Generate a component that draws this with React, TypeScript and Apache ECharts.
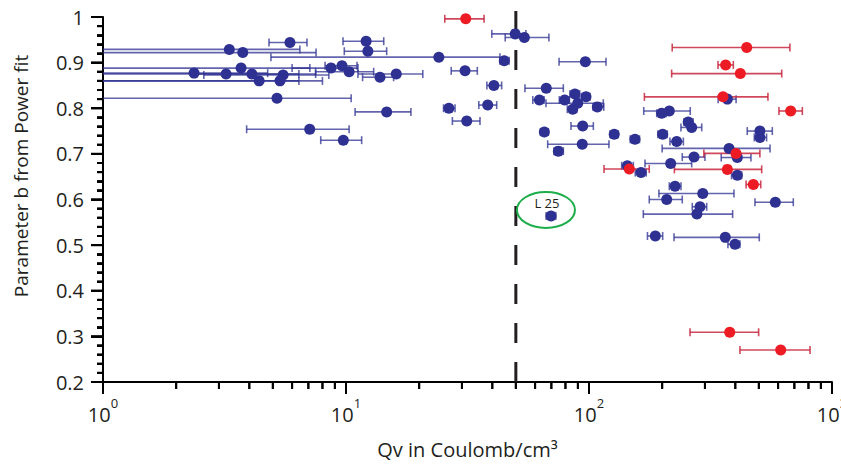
import React, { useEffect, useRef } from 'react';
import * as echarts from 'echarts';

const BLUE_QV = [5.88, 3.31, 3.76, 12.1, 12.3, 24.1, 44.8, 2.37, 3.21, 3.7, 4.1, 4.39, 5.51, 5.35, 5.2, 8.68, 9.63, 10.3, 13.8, 16.1, 14.7, 7.09, 9.75, 30.9, 40.6, 38.3, 26.5, 31.4, 49.7, 54.2, 96.6, 66.7, 62.5, 79.4, 87.5, 97.2, 89.9, 85.7, 108.2, 65.5, 94.2, 93.8, 74.8, 127, 214, 199, 371, 256, 264.6, 154.6, 201, 229.6, 505, 505, 377, 407.7, 270.5, 216.8, 143.8, 163.7, 407.7, 225.9, 293.8, 208.8, 584.6, 286.3, 278, 69.8, 187.5, 363.8, 398.9];
const BLUE_B = [0.944, 0.929, 0.922, 0.947, 0.925, 0.912, 0.904, 0.877, 0.875, 0.888, 0.875, 0.86, 0.873, 0.86, 0.822, 0.888, 0.893, 0.88, 0.868, 0.875, 0.792, 0.754, 0.73, 0.882, 0.85, 0.807, 0.8, 0.772, 0.963, 0.955, 0.902, 0.844, 0.818, 0.818, 0.831, 0.825, 0.811, 0.798, 0.803, 0.748, 0.761, 0.721, 0.706, 0.743, 0.794, 0.789, 0.82, 0.77, 0.758, 0.732, 0.743, 0.727, 0.75, 0.736, 0.712, 0.692, 0.693, 0.679, 0.674, 0.659, 0.653, 0.629, 0.613, 0.6, 0.594, 0.584, 0.568, 0.564, 0.52, 0.517, 0.502];
const BLUE_LO = [4.82, 0.5, 0.5, 9.72, 9.84, 4.91, 43, 0.5, 0.5, 0.5, 2.43, 0.5, 2.6, 0.5, 0.5, 6.0, 8.2, 7.5, 11.7, 11.2, 10.9, 3.9, 7.87, 27.1, 38, 35.2, 25.2, 27.4, 39.8, 45.2, 75.3, 54.5, 58.7, 75.5, 83.5, 93.3, 66.5, 81.4, 104, 63.1, 84.3, 67.6, 71.7, 122, 168, 190, 340, 246, 239, 147.8, 192, 215.4, 448, 479, 200, 350, 242, 170, 136.3, 155, 386, 214, 194, 177, 482, 266, 167.3, 66.6, 174, 223.8, 373];
const BLUE_HI = [6.91, 6.46, 7.53, 14.3, 14.7, 43, 46.9, 4.76, 6.4, 7.1, 7.5, 8.0, 8.5, 6.4, 10.5, 11.2, 11.1, 13.0, 15.7, 20.7, 18.5, 10.3, 11.6, 34.7, 43.7, 41.7, 28.1, 35.6, 55, 68.4, 117.5, 78.4, 65.3, 83, 91.5, 101, 114.5, 89, 115, 68, 104.2, 120.8, 78.4, 132, 261, 208, 403, 268, 291, 161.4, 210, 244.5, 568, 538, 556, 464, 300, 264.6, 152.2, 172, 425, 239, 395, 242, 693, 305, 390, 73, 201, 502, 418];

const RED_QV = [31.1, 445.7, 365, 419.4, 356, 676, 402.7, 146.5, 371, 474.6, 379.4, 615];
const RED_B = [0.996, 0.933, 0.895, 0.876, 0.825, 0.794, 0.701, 0.667, 0.666, 0.633, 0.309, 0.27];
const RED_LO = [25.5, 220, 339.5, 218.8, 169, 605, 297, 115.3, 224.6, 443, 260.4, 418];
const RED_HI = [37, 671, 392.6, 621, 545, 755, 505, 177, 513.6, 509, 499, 812];

const X_MIN = 1;
const X_MAX = 1000;
const X_MAJOR_TICKS = [1, 10, 100, 1000];
const X_MINOR_TICKS = [2, 3, 4, 5, 6, 7, 8, 9, 20, 30, 40, 50, 60, 70, 80, 90, 200, 300, 400, 500, 600, 700, 800, 900];
const Y_MIN = 0.2;
const Y_MAX = 1;
const Y_INTERVAL = 0.1;
const Y_MAJOR_TICKS = [0.2, 0.3, 0.4, 0.5, 0.6, 0.7, 0.8, 0.9, 1.0];
const Y_MINOR_TICKS = [
  0.22, 0.24, 0.26, 0.28, 0.32, 0.34, 0.36, 0.38, 0.42, 0.44, 0.46, 0.48,
  0.52, 0.54, 0.56, 0.58, 0.62, 0.64, 0.66, 0.68, 0.72, 0.74, 0.76, 0.78,
  0.82, 0.84, 0.86, 0.88, 0.92, 0.94, 0.96, 0.98,
];
const THRESHOLD_QV = 50;
const ANNOTATION_LABEL = 'L 25';
const ANNOTATION_POS = [66.5, 0.577];
const X_TITLE = 'Qv in Coulomb/cm³';
const Y_TITLE = 'Parameter b from Power fit';

const INK = '#000';
const TEXT = '#231F20';
const BLUE = '#2E3192';
const RED = '#ED1C24';
const FONT = 'Open Sans';

function errorBar(color: string, opacity: number) {
  return (params: any, api: any) => {
    const y = api.value(1);
    const lo = api.value(2);
    const hi = api.value(3);
    const loClipped = lo < X_MIN;
    const p1 = api.coord([Math.max(lo, X_MIN), y]);
    const p2 = api.coord([Math.min(hi, X_MAX), y]);
    const c = 4;
    const style = { stroke: color, lineWidth: 1.6, opacity };
    const children: any[] = [
      { type: 'line', shape: { x1: p1[0], y1: p1[1], x2: p2[0], y2: p2[1] }, style },
      { type: 'line', shape: { x1: p2[0], y1: p2[1] - c, x2: p2[0], y2: p2[1] + c }, style },
    ];
    if (!loClipped) {
      children.push({ type: 'line', shape: { x1: p1[0], y1: p1[1] - c, x2: p1[0], y2: p1[1] + c }, style });
    }
    return { type: 'group', children };
  };
}

function tickItem(params: any, api: any) {
  const kind = api.value(2);
  const len = api.value(3);
  const p = api.coord([api.value(0), api.value(1)]);
  const shape =
    kind === 0
      ? { x1: p[0], y1: p[1], x2: p[0], y2: p[1] + len }
      : { x1: p[0], y1: p[1], x2: p[0] - len, y2: p[1] };
  return { type: 'line', shape, style: { stroke: INK, lineWidth: 2 } };
}

function thresholdItem(params: any, api: any) {
  const x = api.value(0);
  const bottom = api.coord([x, api.value(1)]);
  const top = api.coord([x, api.value(2)]);
  return {
    type: 'line',
    shape: { x1: bottom[0], y1: bottom[1], x2: top[0], y2: top[1] - 12 },
    style: { stroke: TEXT, lineWidth: 3, lineDash: [20, 19] },
  };
}

export default function App() {
  const ref = useRef<HTMLDivElement>(null);

  useEffect(() => {
    if (!ref.current) return;
    const chart = echarts.init(ref.current, undefined, { renderer: 'svg' });

    const blueBars = BLUE_QV.map((x, i) => [x, BLUE_B[i], BLUE_LO[i], BLUE_HI[i]]);
    const redBars = RED_QV.map((x, i) => [x, RED_B[i], RED_LO[i], RED_HI[i]]);
    const bluePts = BLUE_QV.map((x, i) => [x, BLUE_B[i]]);
    const redPts = RED_QV.map((x, i) => [x, RED_B[i]]);
    const ticks = [
      ...X_MAJOR_TICKS.map((v) => [v, Y_MIN, 0, 12]),
      ...X_MINOR_TICKS.map((v) => [v, Y_MIN, 0, 7]),
      ...Y_MAJOR_TICKS.map((v) => [X_MIN, v, 1, 12]),
      ...Y_MINOR_TICKS.map((v) => [X_MIN, v, 1, 6]),
    ];

    const yTitle = {
      type: 'text',
      id: 'ytitle',
      x: 21,
      y: 176,
      rotation: Math.PI / 2,
      style: {
        text: Y_TITLE,
        fontSize: 19,
        fontFamily: FONT,
        fill: TEXT,
        align: 'center',
        verticalAlign: 'middle',
      },
    };

    const option: any = {
      animation: false,
      grid: { left: 103, right: 9, top: 17, bottom: 89, outerBoundsMode: 'none', containLabel: false },
      xAxis: {
        type: 'log',
        logBase: 10,
        min: X_MIN,
        max: X_MAX,
        name: X_TITLE,
        nameLocation: 'middle',
        nameGap: 57,
        nameTextStyle: { fontSize: 20, color: TEXT, fontFamily: FONT },
        axisLine: { show: true, lineStyle: { color: INK, width: 2 } },
        axisTick: { show: true, length: 12, lineStyle: { color: INK, width: 2 } },
        splitLine: { show: false },
        axisLabel: {
          margin: 14,
          formatter: (v: number) => `{base|10}{sup|${Math.round(Math.log10(v))}}`,
          rich: {
            base: { fontSize: 20, color: TEXT, fontFamily: FONT, lineHeight: 28, verticalAlign: 'bottom' },
            sup: { fontSize: 13, color: TEXT, fontFamily: FONT, lineHeight: 13, verticalAlign: 'top' },
          },
        },
      },
      yAxis: {
        type: 'value',
        min: Y_MIN,
        max: Y_MAX,
        interval: Y_INTERVAL,
        axisLine: { show: true, lineStyle: { color: INK, width: 2 } },
        axisTick: { show: true, length: 12, lineStyle: { color: INK, width: 2 } },
        minorTick: { show: true, splitNumber: 5, length: 6, lineStyle: { color: INK, width: 2 } },
        splitLine: { show: false },
        axisLabel: {
          margin: 19,
          fontSize: 20,
          color: TEXT,
          fontFamily: FONT,
          formatter: (v: number) => (Math.abs(v - 1) < 1e-9 ? '1' : v.toFixed(1)),
        },
      },
      graphic: [yTitle],
      series: [
        {
          type: 'scatter',
          name: 'blue',
          symbol: 'circle',
          symbolSize: 11,
          itemStyle: { color: BLUE, opacity: 1 },
          data: bluePts,
          z: 3,
        },
        {
          type: 'custom',
          name: 'ticks',
          clip: false,
          renderItem: tickItem,
          encode: { x: 0, y: 1 },
          data: ticks,
          z: 10,
        },
        {
          type: 'custom',
          name: 'threshold',
          clip: false,
          renderItem: thresholdItem,
          encode: { x: 0, y: 1 },
          data: [[THRESHOLD_QV, Y_MIN, Y_MAX]],
          z: 1,
        },
        {
          type: 'custom',
          name: 'blueErr',
          clip: false,
          renderItem: errorBar(BLUE, 0.75),
          encode: { x: 0, y: 1 },
          data: blueBars,
          z: 2,
        },
        {
          type: 'custom',
          name: 'redErr',
          clip: false,
          renderItem: errorBar('#C8283F', 0.85),
          encode: { x: 0, y: 1 },
          data: redBars,
          z: 2,
        },
        {
          type: 'scatter',
          name: 'red',
          symbol: 'circle',
          symbolSize: 11,
          itemStyle: { color: RED, opacity: 1 },
          data: redPts,
          z: 4,
        },
        {
          type: 'custom',
          name: 'annotation',
          clip: false,
          encode: { x: 0, y: 1 },
          data: [ANNOTATION_POS],
          renderItem: (params: any, api: any) => {
            const p = api.coord([api.value(0), api.value(1)]);
            return {
              type: 'group',
              children: [
                {
                  type: 'ellipse',
                  shape: { cx: p[0], cy: p[1], rx: 29, ry: 18 },
                  style: { stroke: '#1DAE4B', fill: 'none', lineWidth: 2 },
                },
                {
                  type: 'text',
                  x: p[0] + 1,
                  y: p[1] - 7,
                  style: {
                    text: ANNOTATION_LABEL,
                    fontSize: 13,
                    fontFamily: FONT,
                    fill: TEXT,
                    align: 'center',
                    verticalAlign: 'middle',
                  },
                },
              ],
            };
          },
          z: 5,
        },
      ],
    };

    chart.setOption(option);

    // Second pass: tick marks as graphic lines, positioned through the axes' own scales.
    try {
      const finder = { xAxisIndex: 0, yAxisIndex: 0 };
      const tickLines: any[] = ticks.map((t, i) => {
        const p = chart.convertToPixel(finder as any, [t[0], t[1]]) as number[];
        const shape =
          t[2] === 0
            ? { x1: p[0], y1: p[1], x2: p[0], y2: p[1] + t[3] }
            : { x1: p[0], y1: p[1], x2: p[0] - t[3], y2: p[1] };
        return { type: 'line', id: 'tk' + i, shape, style: { stroke: INK, lineWidth: 2 }, z: 100, silent: true };
      });
      chart.setOption({ graphic: [yTitle, ...tickLines] });
    } catch (e) {
      // keep the chart as drawn by the first pass
    }

    return () => chart.dispose();
  }, []);

  return (
    <div
      ref={ref}
      style={{ position: 'absolute', left: 0, top: 0, width: 841, height: 471 }}
    />
  );
}
